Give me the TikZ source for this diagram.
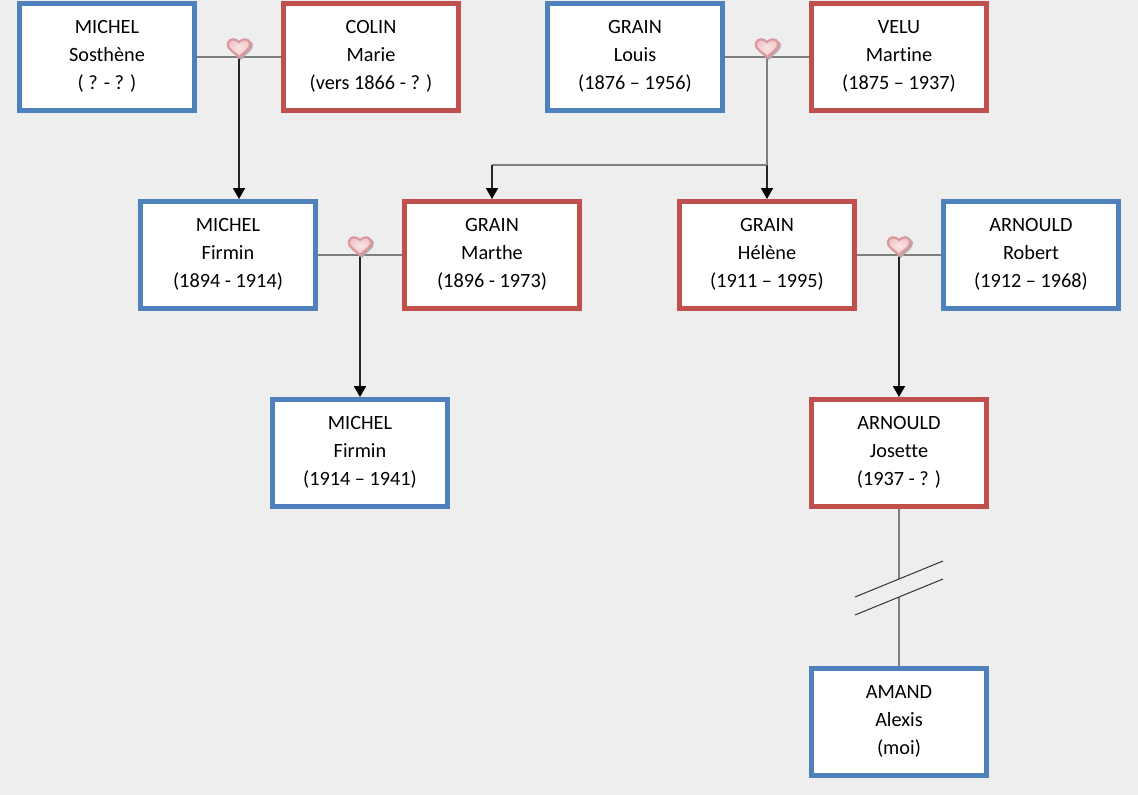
\documentclass[tikz,border=0pt]{standalone}
\usepackage{fontspec}
\setmainfont[Ligatures=NoCommon]{Carlito}
\usetikzlibrary{arrows.meta}
\definecolor{bg}{HTML}{EEEEEE}
\definecolor{bluebox}{HTML}{4F81BD}
\definecolor{redbox}{HTML}{C0504D}
\definecolor{linkgray}{HTML}{7F7F7F}
\definecolor{heartedge}{HTML}{DB979B}
\definecolor{heartin}{HTML}{F9E6E6}
\definecolor{heartout}{HTML}{EFBFC1}
\definecolor{heartshadow}{HTML}{B5A9A9}
\tikzset{
  x=0.75pt,y=-0.75pt,
  person/.style={draw,fill=white,line width=3.75pt,minimum width=131.25pt,minimum height=80.25pt,
    inner sep=0pt,font=\fontsize{15.2}{21}\selectfont,text=black},
  man/.style={person,draw=bluebox},
  woman/.style={person,draw=redbox},
  union/.style={draw=linkgray,line width=1.3pt},
  descent/.style={draw=black!85,line width=1.2pt,-{Triangle[length=8.2pt,width=9pt,black]}},
  plainlink/.style={draw=linkgray,line width=1.2pt},
  slash/.style={draw=black!80,line width=0.75pt},
}
\newcommand{\heartat}[2]{%
  \fill[heartshadow] (#1+2,#2+3) .. controls (#1-3,#2-3) and (#1-12,#2-6) .. (#1-10,#2-13) .. controls (#1-8,#2-18) and (#1-1,#2-17) .. (#1+2,#2-13) .. controls (#1+5,#2-17) and (#1+12,#2-18) .. (#1+14,#2-13) .. controls (#1+15,#2-6) and (#1+6,#2-3) .. (#1+2,#2+3) -- cycle;
  \draw[heartedge,inner color=heartin,outer color=heartout,line width=1.6pt] (#1,#2+0.5) .. controls (#1-4,#2-5) and (#1-13,#2-8) .. (#1-11,#2-14) .. controls (#1-9,#2-19.5) and (#1-3,#2-18) .. (#1,#2-15) .. controls (#1+3,#2-18) and (#1+9,#2-19.5) .. (#1+11,#2-14) .. controls (#1+13,#2-8) and (#1+4,#2-5) .. (#1,#2+0.5) -- cycle;
}
\newcommand{\who}[3]{\raisebox{1.1pt}[\height][\depth]{\begin{tabular}{@{}c@{}}#1\\#2\\#3\end{tabular}}}
\begin{document}
\begin{tikzpicture}
\useasboundingbox[fill=bg] (0,0) rectangle (1138,795);
\node[man] (sosthene) at (107,57) {\who{MICHEL}{Sosthène}{( ? - ? )}};
\node[woman] (marie) at (371,57) {\who{COLIN}{Marie}{(vers 1866 - ? )}};
\node[man] (louis) at (635,57) {\who{GRAIN}{Louis}{(1876 – 1956)}};
\node[woman] (martine) at (899,57) {\who{VELU}{Martine}{(1875 – 1937)}};
\node[man] (firminA) at (228,255) {\who{MICHEL}{Firmin}{(1894 - 1914)}};
\node[woman] (marthe) at (492,255) {\who{GRAIN}{Marthe}{(1896 - 1973)}};
\node[woman] (helene) at (767,255) {\who{GRAIN}{Hélène}{(1911 – 1995)}};
\node[man] (robert) at (1031,255) {\who{ARNOULD}{Robert}{(1912 – 1968)}};
\node[man] (firminB) at (360,453) {\who{MICHEL}{Firmin}{(1914 – 1941)}};
\node[woman] (josette) at (899,453) {\who{ARNOULD}{Josette}{(1937 - ? )}};
\node[man] (alexis) at (899,722) {\who{AMAND}{Alexis}{(moi)}};
\coordinate (j1) at (239,57);
\coordinate (j2) at (767,57);
\coordinate (j2b) at (767,165);
\coordinate (j2c) at (492,165);
\coordinate (j3) at (360,255);
\coordinate (j4) at (899,255);
\coordinate (b1) at (899,579);
\coordinate (b2) at (899,597);
\coordinate (s1a) at (855,597);
\coordinate (s1b) at (943,561);
\coordinate (s2a) at (855,615);
\coordinate (s2b) at (943,579);
\draw[union] (sosthene.east) -- (marie.west);
\draw[union] (louis.east) -- (martine.west);
\draw[union] (firminA.east) -- (marthe.west);
\draw[union] (helene.east) -- (robert.west);
\draw[descent] (j1) -- (j1 |- firminA.north);
\draw[plainlink] (j2) -- (j2b);
\draw[descent] (j2b) -- (helene.north);
\draw[plainlink] (j2b) -- (j2c);
\draw[descent] (j2c) -- (marthe.north);
\draw[descent] (j3) -- (j3 |- firminB.north);
\draw[descent] (j4) -- (josette.north);
\draw[plainlink] (josette.south) -- (b1);
\draw[plainlink] (b2) -- (alexis.north);
\draw[slash] (s1a) -- (s1b);
\draw[slash] (s2a) -- (s2b);
\heartat{239}{57}
\heartat{767}{57}
\heartat{360}{255}
\heartat{899}{255}
\end{tikzpicture}
\end{document}
